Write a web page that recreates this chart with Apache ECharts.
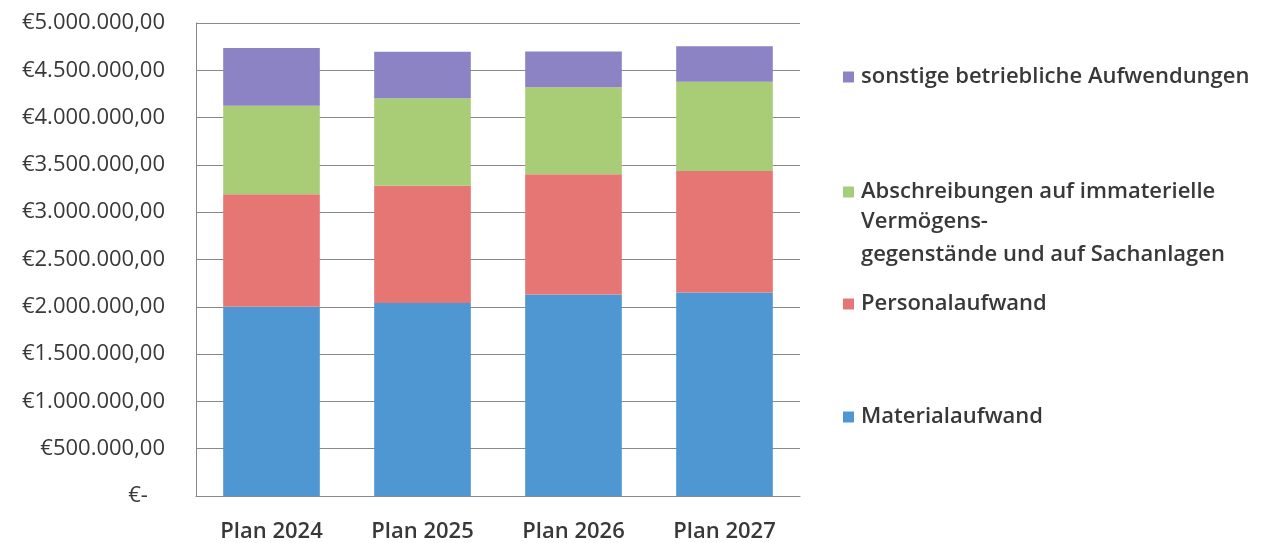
<!DOCTYPE html>
<html><head><meta charset="utf-8">
<script src="https://cdn.jsdelivr.net/npm/echarts@6/dist/echarts.min.js"></script>
<style>html,body{margin:0;padding:0;background:#fff}#c{width:1261px;height:543px}</style>
</head><body><div id="c"></div>
<script>
const categories = ['Plan 2024', 'Plan 2025', 'Plan 2026', 'Plan 2027'];
const materialaufwand = [2000000, 2040000, 2130000, 2150000];
const personalaufwand = [1190000, 1240000, 1270000, 1285000];
const abschreibungen = [935000, 925000, 920000, 945000];
const sonstige = [610000, 490000, 380000, 375000];
const seriesNames = ['Materialaufwand', 'Personalaufwand',
  'Abschreibungen auf immaterielle Vermögensgegenstände und auf Sachanlagen',
  'sonstige betriebliche Aufwendungen'];
const legendLabels = ['Materialaufwand', 'Personalaufwand',
  'Abschreibungen auf immaterielle', 'sonstige betriebliche Aufwendungen'];
const legendExtra = 'Vermögens-\ngegenstände und auf Sachanlagen';
const colors = ['#4F97D3', '#E67674', '#A8CD76', '#8C83C5'];

function fmt(v) {
  if (v === 0) return '€-   ';
  const s = Math.round(v).toString().replace(/\B(?=(\d{3})+(?!\d))/g, '.');
  return '€' + s + ',00';
}
const font = '"Open Sans", Lato, sans-serif';
const txt = '#383838';
const chart = echarts.init(document.getElementById('c'), null, {renderer: 'canvas'});
const legendCenters = [412, 299, 187, 72];
const legends = seriesNames.map((n, i) => ({
  data: [n], left: 838, top: legendCenters[i] - 16, orient: 'vertical',
  itemWidth: 11, itemHeight: 11, itemGap: 0, icon: 'rect',
  formatter: () => legendLabels[i],
  textStyle: {fontFamily: font, fontSize: 22, fontWeight: 600, color: txt, lineHeight: 32, padding: [0,0,0,2]},
  selectedMode: false
}));
const data = [materialaufwand, personalaufwand, abschreibungen, sonstige];
chart.setOption({
  animation: false,
  backgroundColor: '#fff',
  legend: legends,
  graphic: [{
    type: 'text', left: 861, top: 205,
    style: {text: legendExtra, font: '600 22px "Open Sans", Lato, sans-serif', fill: txt, lineHeight: 33}
  }],
  grid: {left: 196, top: 23, width: 604, height: 474, containLabel: false},
  xAxis: {
    type: 'category', data: categories,
    axisLine: {lineStyle: {color: '#888', width: 1}},
    axisTick: {show: false},
    axisLabel: {fontFamily: font, fontSize: 22, fontWeight: 600, color: txt, margin: 25}
  },
  yAxis: {
    type: 'value', min: 0, max: 5000000, interval: 500000,
    axisLine: {show: true, lineStyle: {color: '#888', width: 1}},
    axisTick: {show: false},
    splitLine: {lineStyle: {color: '#888', width: 1}},
    axisLabel: {fontFamily: font, fontSize: 22, color: txt, margin: 31, formatter: fmt}
  },
  series: data.map((d, i) => ({
    name: seriesNames[i], type: 'bar', stack: 'total', data: d,
    barWidth: '64%', itemStyle: {color: colors[i]}
  }))
});
</script></body></html>
